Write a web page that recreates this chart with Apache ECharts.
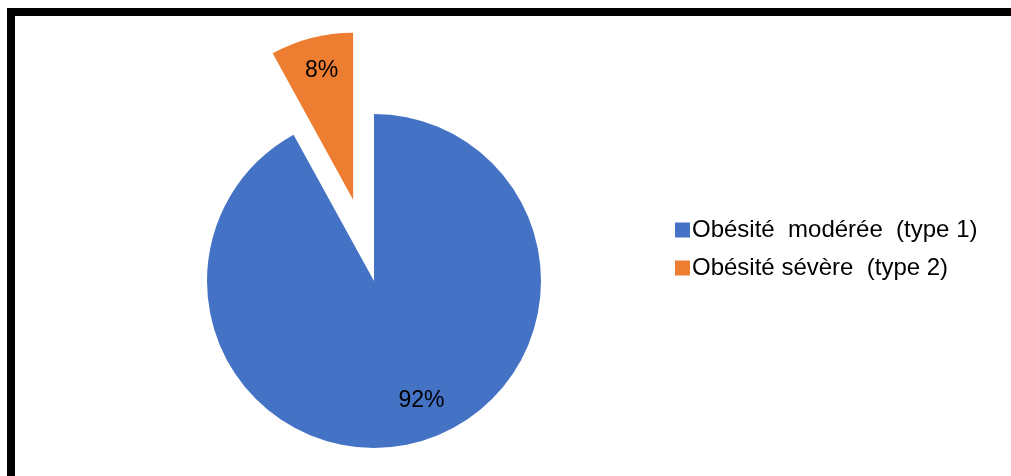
<!DOCTYPE html>
<html>
<head>
<meta charset="utf-8">
<script src="https://cdn.jsdelivr.net/npm/echarts@6/dist/echarts.min.js"></script>
<style>
  html, body { margin: 0; padding: 0; background: #fff; }
  #chart { position: absolute; left: 0; top: 0; width: 1011px; height: 476px; }
  #frame {
    position: absolute; left: 7px; top: 8px; width: 1004px; height: 468px;
    border-top: 8px solid #000; border-left: 8px solid #000;
    box-sizing: border-box; pointer-events: none;
  }
</style>
</head>
<body>
<div id="chart"></div>
<div id="frame"></div>
<script>
// Obesity types (share of patients, %)
const categories = ['Obésité  modérée  (type 1)', 'Obésité sévère  (type 2)'];
const values = [92, 8];
const colors = ['#4472C4', '#ED7D31'];
// the severe slice is pulled out of the pie
const explodedSlice = [false, true];
// nudges the value labels away from their default inside spot
const labelOffsets = [[26, 36], [-10, -45]];

const chart = echarts.init(document.getElementById('chart'), null, { renderer: 'canvas' });

const data = categories.map((name, i) => ({
  name: name,
  value: values[i],
  selected: explodedSlice[i],
  itemStyle: { color: colors[i] },
  label: { offset: labelOffsets[i] },
  select: { label: { offset: labelOffsets[i] } }
}));

chart.setOption({
  animation: false,
  backgroundColor: '#ffffff',
  legend: {
    orient: 'vertical',
    left: 670,
    top: 213,
    itemWidth: 15,
    itemHeight: 15,
    itemGap: 14,
    icon: 'rect',
    selectedMode: false,
    textStyle: { fontFamily: 'Liberation Sans', fontSize: 24, color: '#000', padding: [0, 0, 0, -3] },
    data: categories
  },
  series: [{
    type: 'pie',
    center: [374, 281],
    radius: 167,
    startAngle: 90,
    clockwise: true,
    selectedMode: 'multiple',
    selectedOffset: 84,
    silent: true,
    emphasis: { disabled: true },
    label: {
      show: true,
      position: 'inside',
      formatter: '{c}%',
      fontFamily: 'Liberation Sans',
      fontSize: 23,
      color: '#000'
    },
    labelLine: { show: false },
    data: data
  }]
});
</script>
</body>
</html>
